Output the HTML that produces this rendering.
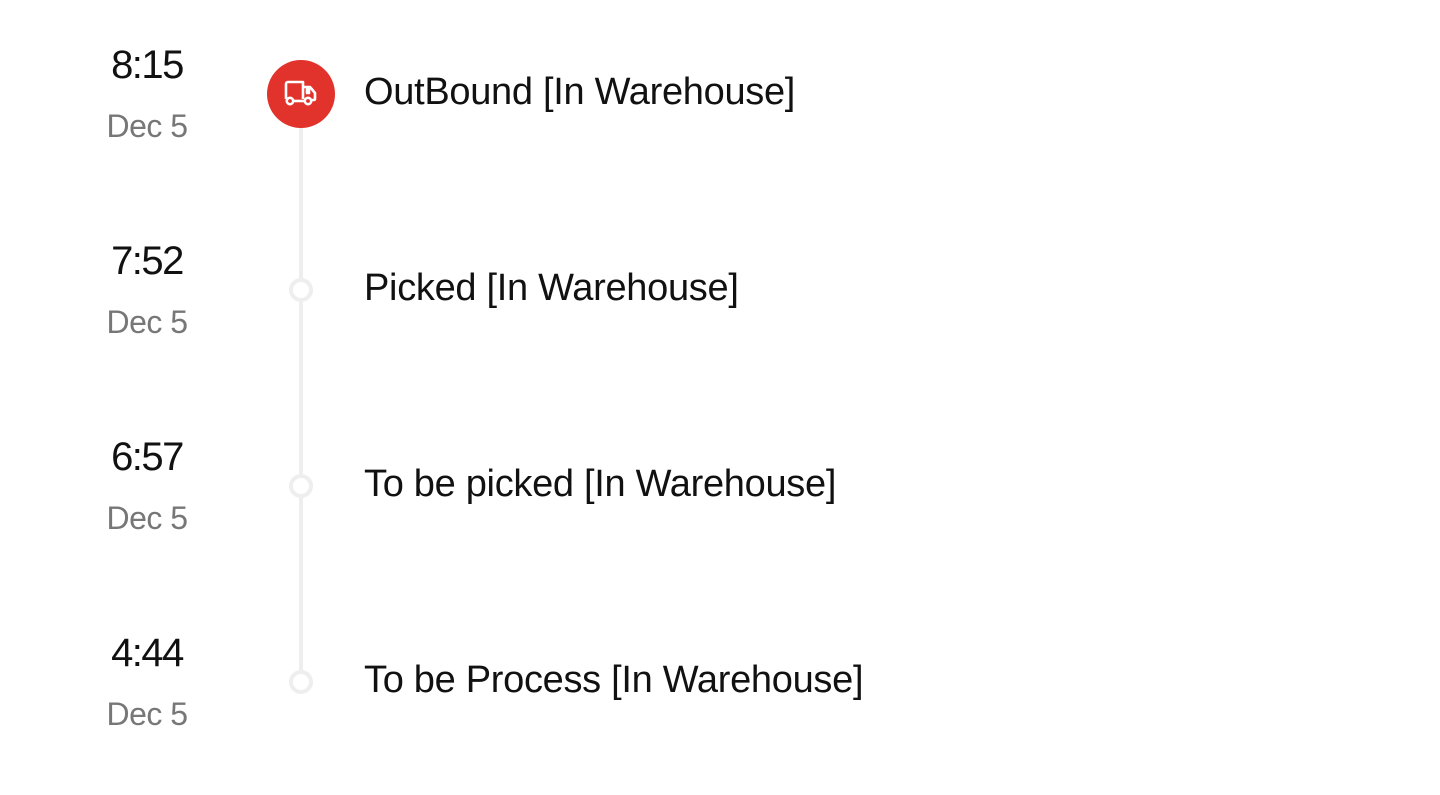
<!DOCTYPE html>
<html><head><style>
body{margin:0;width:1440px;height:795px;background:#fff;position:relative;font-family:"Liberation Sans",sans-serif;overflow:hidden}
.t{position:absolute;width:140px;left:77px;text-align:center;font-size:40px;letter-spacing:-1.5px;color:#111;line-height:1}
.d{position:absolute;width:140px;left:77px;text-align:center;font-size:32px;color:#777;line-height:1;letter-spacing:-0.5px}
.l{position:absolute;left:364px;font-size:38px;letter-spacing:-0.3px;color:#111;line-height:1;white-space:nowrap}
.line{position:absolute;left:299px;top:120px;width:4px;height:562px;background:#eee}
.dot{position:absolute;left:289px;width:16px;height:16px;border:4px solid #eee;border-radius:50%;background:#fff}
.big{position:absolute;left:267px;top:60px;width:68px;height:68px;border-radius:50%;background:#e1322b}
</style></head><body>
<div class="line"></div>
<div class="big"><svg width="68" height="68" viewBox="0 0 68 68"><g fill="none" stroke="#fff" stroke-width="2.6" stroke-linejoin="round"><path d="M19 39 V24 a2 2 0 0 1 2 -2 H36 V39"/><path d="M36 27 H43 L48 33 V39 a1 1 0 0 1 -1 1 H45"/><path d="M40 29 V33 H42 V29 Z"/><circle cx="23" cy="41" r="3.2"/><circle cx="41" cy="41" r="3.2"/><path d="M26 41 H38"/></g></svg></div>
<div class="dot" style="top:278px"></div>
<div class="dot" style="top:474px"></div>
<div class="dot" style="top:670px"></div>

<div class="t" style="top:45px">8:15</div><div class="d" style="top:110px">Dec 5</div>
<div class="t" style="top:241px">7:52</div><div class="d" style="top:306px">Dec 5</div>
<div class="t" style="top:437px">6:57</div><div class="d" style="top:502px">Dec 5</div>
<div class="t" style="top:633px">4:44</div><div class="d" style="top:698px">Dec 5</div>

<div class="l" style="top:73px">OutBound [In Warehouse]</div>
<div class="l" style="top:269px">Picked [In Warehouse]</div>
<div class="l" style="top:465px">To be picked [In Warehouse]</div>
<div class="l" style="top:661px">To be Process [In Warehouse]</div>
</body></html>
